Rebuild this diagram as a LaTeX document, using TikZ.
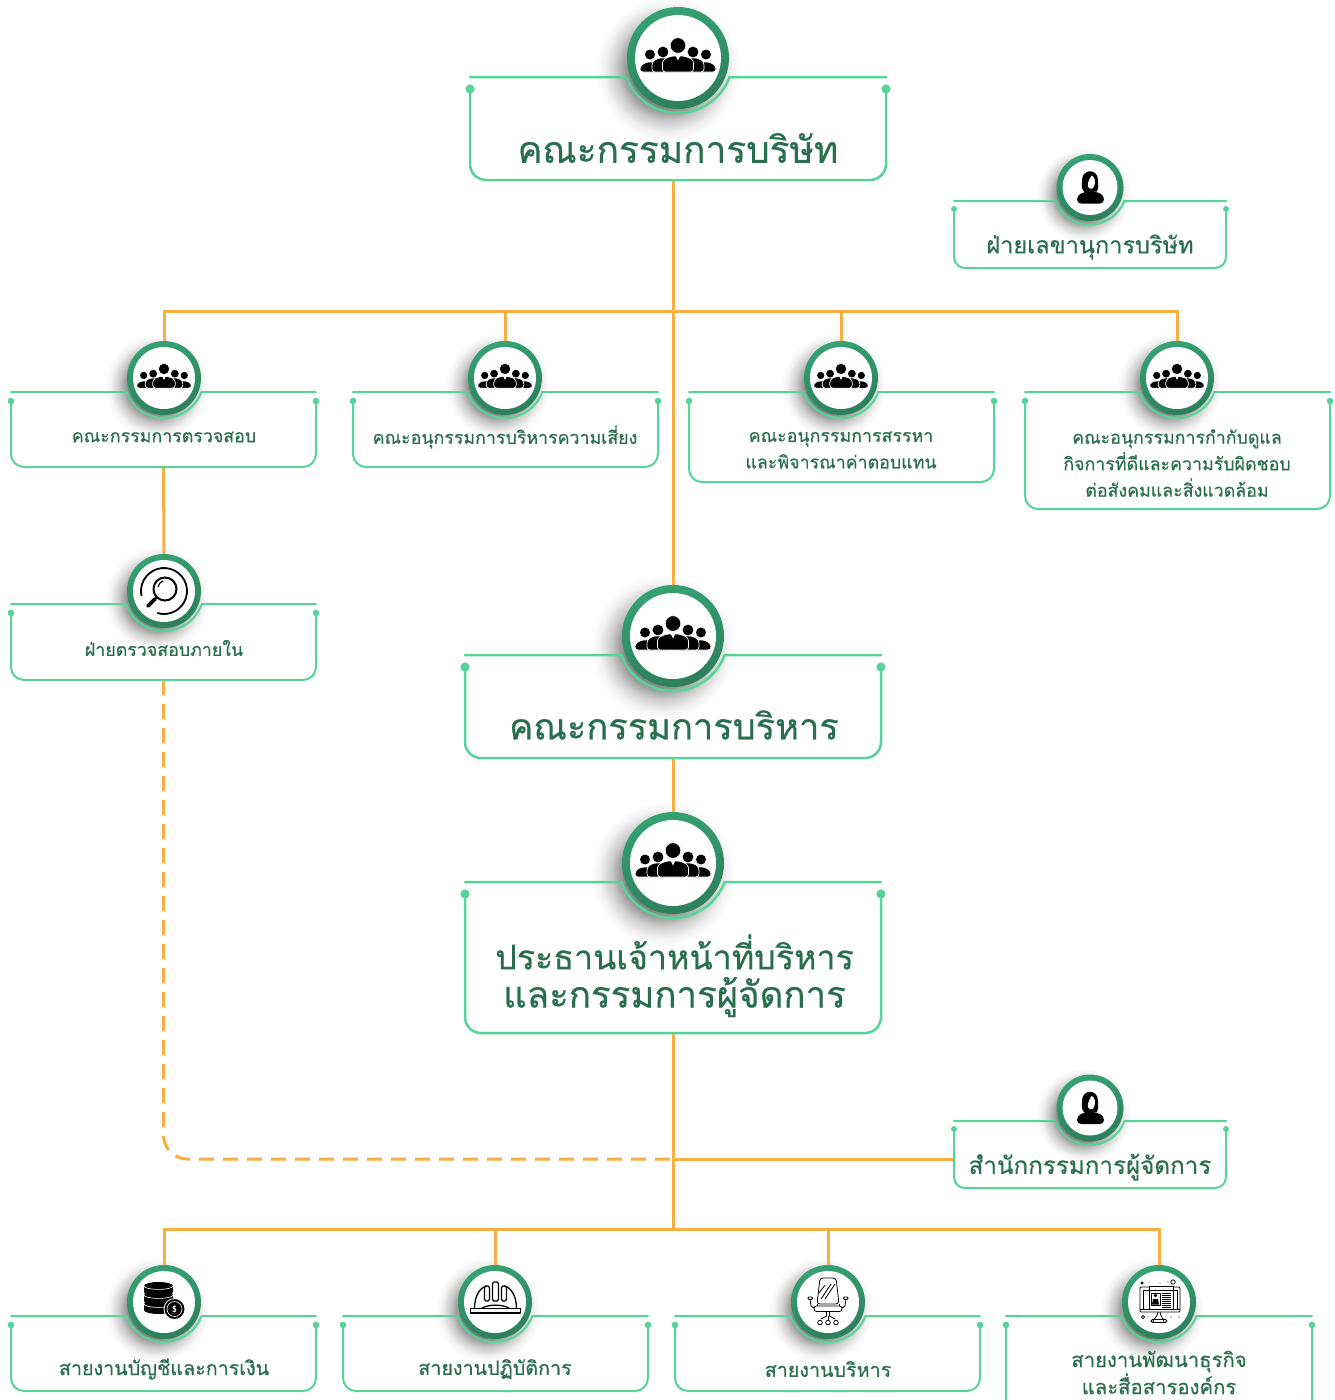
\documentclass[tikz,border=0pt]{standalone}
\usepackage{fontspec}
\newfontfamily\thaifont[Script=Thai,FakeBold=0.5]{Loma}
\definecolor{boxline}{HTML}{56D497}
\definecolor{txtgreen}{HTML}{2A6E50}
\definecolor{connorange}{HTML}{F6B042}
\definecolor{ringtop}{HTML}{35A273}
\definecolor{ringbot}{HTML}{2C7F5B}
\pgfdeclarelayer{shadowlayer}
\pgfdeclarelayer{connlayer}
\pgfsetlayers{shadowlayer,connlayer,main}
\pgfdeclareradialshading{softshadow}{\pgfpointorigin}{color(0bp)=(black!55);color(13bp)=(black!48);color(18bp)=(black!20);color(22bp)=(black!5);color(25bp)=(white);color(50bp)=(white)}
\tikzset{
  boxarea/.style={rectangle,inner sep=0pt,outer sep=0pt},
  iconspot/.style={circle,inner sep=0pt,outer sep=0pt},
  boxedge/.style={draw=boxline,line cap=round},
  conn/.style={draw=connorange,line width=3pt},
  lbl/.style={text=txtgreen,align=center,inner sep=0pt,font=\thaifont},
  lblL/.style={lbl,font=\thaifont\fontsize{36.5}{45}\selectfont},
  lblM/.style={lbl,font=\thaifont\fontsize{23.5}{30}\selectfont},
  lblB/.style={lbl,font=\thaifont\fontsize{19.7}{26}\selectfont},
  lblS/.style={lbl,font=\thaifont\fontsize{17.8}{26.5}\selectfont},
}
\newcommand{\setlarge}{\def\Ro{51}\def\Ri{43}\def\Ra{55}\def\Cr{16}\def\Lw{2.5}\def\Dr{4.6}\def\Dd{12}}
\newcommand{\setsmall}{\def\Ro{37}\def\Ri{31}\def\Ra{40}\def\Cr{13}\def\Lw{2}\def\Dr{3.3}\def\Dd{9}}
\newcommand{\setmid}{\def\Ro{33.5}\def\Ri{27.5}\def\Ra{37}\def\Cr{11}\def\Lw{2}\def\Dr{3}\def\Dd{8}}
% name, L, R, T, B, cx, cy
\newcommand{\orgunit}[7]{%
  \pgfmathsetmacro{\Asn}{asin((#4-#7)/\Ra)}%
  \pgfmathsetmacro{\Dxx}{\Ra*cos(\Asn)}%
  \pgfmathsetmacro{\Sha}{1.42*\Ro}%
  \node[boxarea,minimum width={(#3-#2)*1pt},minimum height={(#5-#4)*1pt}] (#1) at ({(#2+#3)/2},{(#4+#5)/2}) {};
  \node[iconspot,minimum size={2*\Ro*1pt}] (#1-icon) at (#6,#7) {};
  \begin{pgfonlayer}{shadowlayer}
    \shade[shading=softshadow] ({#6-0.2*\Ro},{#7+0.22*\Ro}) circle [radius=\Sha pt];
  \end{pgfonlayer}
  \draw[boxedge,line width=\Lw pt] (#2,#4) -- ({#6-\Dxx},#4)
     arc[start angle={180+\Asn},end angle={360-\Asn},radius=\Ra pt] -- (#3,#4);
  \draw[boxedge,line width=\Lw pt,rounded corners=\Cr pt] (#2,{#4+\Dd}) -- (#2,#5) -- (#3,#5) -- (#3,{#4+\Dd});
  \fill[boxline] (#2,{#4+\Dd}) circle [radius=\Dr pt];
  \fill[boxline] (#3,{#4+\Dd}) circle [radius=\Dr pt];
  \shade[top color=ringtop,bottom color=ringbot,shading angle=15] (#6,#7) circle [radius=\Ro pt];
  \fill[white] (#6,#7) circle [radius=\Ri pt];
}
\newcommand{\onebody}[4]{% x, y-shoulder, half width, bottom
  \fill[black,draw=white,line width=.7pt,rounded corners=3pt] ({#1-#3},#4) -- ({#1-#3},{#2+4}) -- ({#1-#3*.45},#2) -- ({#1+#3*.45},#2) -- ({#1+#3},{#2+4}) -- ({#1+#3},#4) -- cycle;
}
\newcommand{\peopleicon}[3]{%
  \begin{scope}[shift={(#1,#2)},scale=#3]
    \onebody{-27}{4}{11}{14}\onebody{27}{4}{11}{14}
    \fill (-28,-3.5) circle [radius=5pt]; \fill (28,-3.5) circle [radius=5pt];
    \onebody{-15}{0}{11}{14}\onebody{15}{0}{11}{14}
    \fill (-15,-6) circle [radius=5.4pt]; \fill (15,-6) circle [radius=5.4pt];
    \onebody{0}{-2}{15.5}{14}
    \fill[white] (-2.2,-2) -- (2.2,-2) -- (0,2.5) -- cycle;
    \fill[draw=white,line width=.6pt] (0,-12.5) circle [radius=7.8pt];
  \end{scope}}
\newcommand{\personicon}[2]{%
  \begin{scope}[shift={(#1,#2)}]
    \fill[rounded corners=4pt] (-13,16) -- (-13,8) -- (-5,4) -- (6,4) -- (14,8) -- (14,16) -- cycle;
    \fill (-8,-6) .. controls (-9,-19) and (8,-20) .. (8,-7) .. controls (8,-2) and (9,1) .. (7,4) -- (-5,5) .. controls (-9,2) and (-8,-2) .. (-8,-6) -- cycle;
    \fill[white] (1.5,-12) .. controls (5,-11) and (6,-5) .. (4,-1) .. controls (3,2) and (-1,2) .. (-2,-1) .. controls (-3,-3) and (-1,-8) .. (1.5,-12) -- cycle;
  \end{scope}}
\newcommand{\lensicon}[2]{%
  \begin{scope}[shift={(#1,#2)}]
    \draw[line width=1.8pt] (-6.7,22) arc[start angle=253,end angle=552,radius=23pt];
    \draw[line width=2pt] (1,-2) circle [radius=11.5pt];
    \draw[line width=1.2pt] (-6,-4) arc[start angle=170,end angle=110,radius=8pt];
    \draw[line width=1.6pt] (-7,6) -- (-9,8);
    \draw[line width=3.6pt,line cap=round] (-9,8) -- (-16,15);
  \end{scope}}
\newcommand{\oncedisc}[1]{%
  \fill (-20,{#1}) -- (-20,{#1+6}) arc[start angle=180,end angle=360,x radius=14.5pt,y radius=4pt] -- (9,{#1}) arc[start angle=0,end angle=180,x radius=14.5pt,y radius=4pt] -- cycle;
  \draw[white,line width=.6pt] (-20,{#1}) arc[start angle=180,end angle=360,x radius=14.5pt,y radius=3.4pt];
}
\newcommand{\coinicon}[2]{%
  \begin{scope}[shift={(#1,#2)}]
    \oncedisc{2}\oncedisc{-7}\oncedisc{-16}
    \fill[draw=white,line width=.8pt] (10.5,7) circle [radius=10.5pt];
    \draw[white,line width=.6pt] (10.5,7) circle [radius=7.5pt];
    \node[text=white,inner sep=0pt,font=\sffamily\bfseries\fontsize{9}{9}\selectfont] (coinmark) at (10.5,7) {\$};
  \end{scope}}
\newcommand{\helmeticon}[2]{%
  \begin{scope}[shift={(#1,#2)},line width=1.3pt,line join=round]
    \draw (-25,11) -- (25,11) -- (25,6.5) -- (-25,6.5) -- cycle;
    \draw (-21,6.5) .. controls (-21,-8) and (-14,-15) .. (-9,-16);
    \draw (21,6.5) .. controls (21,-8) and (14,-15) .. (9,-16);
    \draw (-14,6.5) .. controls (-8,2) and (8,2) .. (14,6.5);
    \draw[rounded corners=1.5pt] (-11,-1) -- (-11,-16) -- (-6,-16) -- (-6,-1) -- cycle;
    \draw[rounded corners=1.5pt] (-3,-1) -- (-3,-20) -- (3,-20) -- (3,-1) -- cycle;
    \draw[rounded corners=1.5pt] (6,-1) -- (6,-16) -- (11,-16) -- (11,-1) -- cycle;
  \end{scope}}
\newcommand{\chairicon}[2]{%
  \begin{scope}[shift={(#1,#2)},line width=.8pt,line join=round]
    \draw[rounded corners=3pt] (-8,-24) -- (8,-24) -- (11,2) -- (-11,2) -- cycle;
    \draw (-7,-3) -- (3,-18); \draw (-3,-3) -- (7,-18); \draw (-9,-9) -- (-3,-17);
    \draw[rounded corners=2.5pt] (-14,4) rectangle (14,9.5);
    \draw (-11,2) -- (-11,4); \draw (11,2) -- (11,4);
    \draw (-18,-3) -- (-17,4) -- (-14,6); \draw (18,-3) -- (17,4) -- (14,6);
    \draw[rounded corners=1pt] (-20,-5) rectangle (-15.5,-2.5);
    \draw[rounded corners=1pt] (15.5,-5) rectangle (20,-2.5);
    \draw (-1.5,9.5) -- (-1.5,14) -- (-7,17); \draw (1.5,9.5) -- (1.5,14) -- (7,17); \draw (0,14) -- (0,18);
    \draw (-8,20.5) circle [radius=2.3pt]; \draw (0,20.5) circle [radius=2.3pt]; \draw (8,20.5) circle [radius=2.3pt];
  \end{scope}}
\newcommand{\screenicon}[2]{%
  \begin{scope}[shift={(#1,#2)},line width=.8pt,line join=round]
    \draw[rounded corners=1pt] (-19,-15) rectangle (21,10);
    \draw (-19,7) -- (21,7);
    \draw (-16,7) -- (-16,-12) -- (18,-12) -- (18,7);
    \draw[fill=white] (-10,-16) rectangle (14,7);
    \draw (-10,-12) -- (14,-12);
    \draw (-8,-9) rectangle (1,3);
    \fill (-3.5,-6.5) circle [radius=1.8pt];
    \fill (-7,2.5) -- (-6,-3) -- (-1,-3) -- (0,2.5) -- cycle;
    \foreach \yy in {-9,-7,-5,-3,-1,1,3,5}{\draw[line width=.6pt] (3,\yy) -- (12,\yy);}
    \draw (-6,20) .. controls (-5,15) and (-2,16) .. (-1,10); \draw (5,20) .. controls (4,15) and (2,16) .. (1,10);
    \draw[rounded corners=1.5pt] (-8,17.5) rectangle (8,20.5);
    \draw (14,-20) circle [radius=2.2pt]; \draw (-17,-19) circle [radius=1.2pt]; \draw (-16,15) circle [radius=1.6pt];
    \fill (-10,-20) circle [radius=.5pt]; \fill (1,-19) circle [radius=.5pt]; \fill (9,-20) circle [radius=.6pt];
    \fill (12,15) circle [radius=.6pt]; \fill (20,15) circle [radius=.6pt]; \fill (-11,14) circle [radius=.5pt];
  \end{scope}}
\begin{document}
\begin{tikzpicture}[x=1pt,y=-1pt]
\clip (0,0) rectangle (1335,1400);
\useasboundingbox (0,0) rectangle (1335,1400);
\setlarge
\orgunit{board}{470}{886}{77}{180}{678}{58}
\peopleicon{678}{58}{1}
\node[lblL,font=\thaifont\fontsize{37}{45}\selectfont] (boardT) at (678,148) {คณะกรรมการบริษัท};
\orgunit{exec}{465}{881}{655}{758}{673}{636}
\peopleicon{673}{636}{1}
\node[lblL,font=\thaifont\fontsize{36.2}{45}\selectfont] (execT) at (674,725) {คณะกรรมการบริหาร};
\orgunit{ceo}{465}{881}{882}{1033}{673}{863}
\peopleicon{673}{863}{1}
\node[lbl,font=\thaifont\fontsize{34}{45.5}\selectfont] (ceoA) at (674.5,952) {ประธานเจ้าหน้าที่บริหาร};
\node[lbl,font=\thaifont\fontsize{36.6}{45.5}\selectfont] (ceoB) at (674.5,997) {และกรรมการผู้จัดการ};
\setmid
\orgunit{sec}{954}{1226}{201}{268}{1090}{187.5}
\personicon{1090}{187.5}
\node[lblM] (secT) at (1090,247) {ฝ่ายเลขานุการบริษัท};
\orgunit{office}{954}{1226}{1121}{1188}{1090}{1108}
\personicon{1090}{1108}
\node[lblM,font=\thaifont\fontsize{24.2}{30}\selectfont] (officeT) at (1090,1167) {สำนักกรรมการผู้จัดการ};
\setsmall
\orgunit{kA}{11}{316}{392}{467}{164}{378}
\peopleicon{164}{378}{.725}
\node[lblS] (kAT) at (164,437) {คณะกรรมการตรวจสอบ};
\orgunit{kB}{353}{658}{392}{467}{505}{378}
\peopleicon{505}{378}{.725}
\node[lblS] (kBT) at (505,437) {คณะอนุกรรมการบริหารความเสี่ยง};
\orgunit{kC}{689}{994}{392}{482}{841}{378}
\peopleicon{841}{378}{.725}
\node[lblS] (kCT) at (841,450) {คณะอนุกรรมการสรรหา\\และพิจารณาค่าตอบแทน};
\orgunit{kD}{1025}{1330}{392}{509}{1177}{378}
\peopleicon{1177}{378}{.725}
\node[lblS] (kDT) at (1177,463) {คณะอนุกรรมการกำกับดูแล\\กิจการที่ดีและความรับผิดชอบ\\ต่อสังคมและสิ่งแวดล้อม};
\orgunit{audit}{11}{316}{604}{680}{164}{591}
\lensicon{164}{591}
\node[lblS] (auditT) at (164,648) {ฝ่ายตรวจสอบภายใน};
\orgunit{lA}{11}{316}{1316}{1391}{164}{1302}
\coinicon{164}{1302}
\node[lblB] (lAT) at (164,1369) {สายงานบัญชีและการเงิน};
\orgunit{lB}{343}{648}{1316}{1391}{495}{1302}
\helmeticon{495.5}{1302}
\node[lblB] (lBT) at (495,1369) {สายงานปฏิบัติการ};
\orgunit{lC}{675}{980}{1316}{1391}{828}{1302}
\chairicon{828}{1302}
\node[lblB] (lCT) at (828,1369) {สายงานบริหาร};
\orgunit{lD}{1006}{1312}{1316}{1412}{1159}{1302}
\screenicon{1159}{1302}
\node[lblB,font=\thaifont\fontsize{20.3}{26}\selectfont] (lDT) at (1159,1372.5) {สายงานพัฒนาธุรกิจ\\และสื่อสารองค์กร};
\coordinate (railTop) at (673,311);
\coordinate (joint) at (673,1159);
\coordinate (railLow) at (673,1229);
\begin{pgfonlayer}{connlayer}
  \draw[conn] (board.south -| exec-icon.north) -- (exec-icon.north);
  \draw[conn] (kA-icon.north) |- (railTop);
  \draw[conn] (kB-icon.north) |- (railTop);
  \draw[conn] (kC-icon.north) |- (railTop);
  \draw[conn] (kD-icon.north) |- (railTop);
  \draw[conn] (kA.south) -- (audit-icon.north);
  \draw[conn] (exec.south) -- (ceo-icon.north);
  \draw[conn] (ceo.south) -- (railLow);
  \draw[conn] (joint) -- (joint -| office.west);
  \draw[conn,dash pattern=on 15pt off 9pt,rounded corners=24pt] (audit.south) |- (joint);
  \draw[conn] (lA-icon.north) |- (railLow);
  \draw[conn] (lB-icon.north) |- (railLow);
  \draw[conn] (lC-icon.north) |- (railLow);
  \draw[conn] (lD-icon.north) |- (railLow);
\end{pgfonlayer}
\end{tikzpicture}
\end{document}
